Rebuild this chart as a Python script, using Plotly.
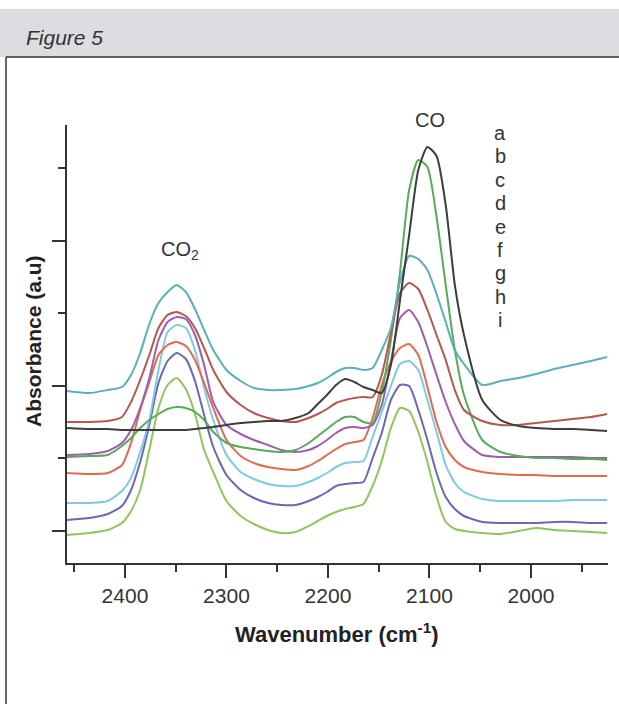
import plotly.graph_objects as go

# Wavenumber grid (cm-1), read along the x axis
wavenumber = [2457, 2435, 2417, 2403, 2394, 2385, 2376, 2367, 2358, 2349,
              2340, 2331, 2322, 2313, 2300, 2286, 2273, 2259, 2246, 2232,
              2219, 2210, 2201, 2192, 2183, 2174, 2165, 2156, 2147, 2138,
              2129, 2120, 2111, 2102, 2093, 2084, 2075, 2066, 2048, 2030,
              2012, 1995, 1977, 1959, 1941, 1925]

# Absorbance (arbitrary units, offset spectra)
teal = [140, 138, 141, 144, 156, 178, 207, 228, 239, 246,
        239, 222, 201, 181, 161, 150, 143, 141, 141, 142,
        145, 148, 153, 159, 163, 163, 161, 163, 181, 203,
        249, 275, 272, 261, 237, 209, 181, 167, 146, 150,
        153, 157, 162, 166, 170, 174]
brown = [109, 109, 110, 114, 129, 151, 176, 203, 216, 219,
         215, 203, 183, 161, 139, 126, 118, 113, 110, 109,
         113, 117, 122, 128, 131, 133, 134, 134, 156, 198,
         238, 248, 242, 221, 196, 171, 141, 121, 110, 106,
         106, 108, 110, 112, 114, 117]
black = [103, 102, 102, 101, 101, 101, 101, 101, 101, 101,
         101, 102, 103, 104, 106, 108, 109, 110, 110, 113,
         118, 127, 136, 146, 152, 149, 144, 141, 138, 166,
         231, 296, 361, 384, 375, 326, 246, 196, 131, 111,
         105, 103, 102, 102, 101, 100]
purple = [76, 77, 80, 88, 101, 123, 153, 191, 209, 214,
          212, 196, 166, 129, 106, 97, 91, 86, 81, 79,
          81, 85, 91, 98, 103, 104, 103, 106, 126, 169,
          213, 221, 209, 184, 156, 129, 107, 90, 76, 74,
          74, 74, 74, 74, 73, 73]
green = [74, 75, 76, 85, 93, 103, 111, 117, 122, 124,
         123, 119, 111, 99, 88, 84, 82, 80, 79, 81,
         88, 95, 102, 109, 114, 114, 109, 108, 139, 191,
         259, 341, 371, 364, 314, 246, 181, 136, 91, 79,
         75, 73, 73, 72, 72, 71]
orange = [58, 57, 58, 66, 88, 121, 149, 176, 186, 189,
          185, 171, 148, 123, 91, 75, 68, 64, 62, 61,
          65, 70, 76, 82, 87, 89, 91, 113, 146, 169,
          183, 187, 176, 144, 109, 84, 71, 64, 59, 57,
          56, 56, 55, 55, 55, 55]
light_blue = [28, 28, 30, 40, 53, 79, 111, 161, 199, 206,
              203, 181, 143, 111, 76, 59, 52, 47, 45, 45,
              49, 53, 58, 64, 68, 69, 70, 94, 119, 145,
              167, 170, 161, 131, 99, 66, 48, 39, 32, 30,
              30, 30, 30, 31, 31, 31]
blue = [11, 13, 17, 25, 41, 69, 106, 148, 170, 178,
        172, 150, 116, 84, 56, 41, 33, 28, 26, 26,
        30, 34, 39, 45, 47, 48, 49, 73, 98, 131,
        146, 145, 121, 91, 58, 34, 22, 15, 9, 8,
        8, 8, 9, 9, 8, 8]
light_green = [-4, -2, 1, 8, 20, 41, 81, 123, 146, 153,
               142, 117, 81, 59, 30, 15, 7, 1, -2, -1,
               5, 10, 15, 19, 22, 24, 27, 45, 70, 103,
               123, 120, 99, 69, 34, 9, 2, 0, -2, -3,
               0, 3, 1, 0, -1, -2]

series = [
    (light_green, "#8fc65a"),
    (blue, "#6a67b8"),
    (light_blue, "#7ccbe3"),
    (orange, "#e5694e"),
    (purple, "#a05cb0"),
    (green, "#55ad55"),
    (brown, "#b5574b"),
    (teal, "#56b1bd"),
    (black, "#3d3d3d"),
]

x_major = [2400, 2300, 2200, 2100, 2000]
x_minor = [2450, 2350, 2250, 2150, 2050, 1950]
y_major = [0, 145.2, 290.4]
y_minor = [72.6, 217.8, 363]
legend_letters = ["a", "b", "c", "d", "e", "f", "g", "h", "i"]

W, H = 619, 704
L, R, T, B = 67, 608, 125, 563


def px(x):
    return (x - L) / (R - L)


def py(y):
    return (B - y) / (B - T)


fig = go.Figure()
for vals, col in series:
    fig.add_trace(go.Scatter(x=wavenumber, y=vals, mode="lines",
                             line=dict(color=col, width=2, shape="spline", smoothing=0.6),
                             showlegend=False, hoverinfo="skip"))

FONT = "Liberation Sans, Arial, sans-serif"
TXT = "#333333"

shapes = [
    dict(type="rect", xref="paper", yref="paper", x0=px(0), x1=px(W), y0=py(57), y1=py(9),
         fillcolor="#dcdde0", line=dict(width=0), layer="below"),
    dict(type="line", xref="paper", yref="paper", x0=px(6), x1=px(W), y0=py(57), y1=py(57),
         line=dict(color="#333333", width=1.5)),
    dict(type="line", xref="paper", yref="paper", x0=px(6), x1=px(6), y0=py(57), y1=py(H),
         line=dict(color="#333333", width=1.5)),
]

annotations = [
    dict(text="<i>Figure 5</i>", x=px(24), y=py(37), xanchor="left", yanchor="middle",
         font=dict(size=21, color=TXT, family=FONT)),
    dict(text="<b>Absorbance (a.u)</b>", x=px(33), y=py(341), textangle=-90,
         xanchor="center", yanchor="middle", font=dict(size=21, color="#222222", family=FONT)),
    dict(text="<b>Wavenumber (cm<sup>-1</sup>)</b>", x=px(337), y=py(633),
         xanchor="center", yanchor="middle", font=dict(size=22, color="#222222", family=FONT)),
    dict(text="CO", x=px(430), y=py(120), xanchor="center", yanchor="middle",
         font=dict(size=20, color=TXT, family=FONT)),
    dict(text="CO<sub>2</sub>", x=px(180), y=py(250), xanchor="center", yanchor="middle",
         font=dict(size=20, color=TXT, family=FONT)),
]
for i, letter in enumerate(legend_letters):
    annotations.append(dict(text=letter, x=px(500), y=py(133 + i * 23.4),
                            xanchor="center", yanchor="middle",
                            font=dict(size=20, color=TXT, family=FONT)))
for a in annotations:
    a.update(xref="paper", yref="paper", showarrow=False)

fig.update_layout(
    width=W, height=H,
    margin=dict(l=L, r=W - R, t=T, b=H - B),
    paper_bgcolor="white", plot_bgcolor="white",
    shapes=shapes, annotations=annotations,
    xaxis=dict(range=[2457.1, 1924.1], tickvals=x_major, ticks="outside", ticklen=13,
               tickwidth=1.5, tickcolor="#333333", showline=True, linecolor="#333333",
               linewidth=1.5, showgrid=False, zeroline=False,
               tickfont=dict(size=21, color=TXT, family=FONT),
               minor=dict(tickvals=x_minor, ticks="outside", ticklen=7,
                          tickwidth=1.5, tickcolor="#333333", showgrid=False)),
    yaxis=dict(range=[-32, 406], tickvals=y_major, ticks="outside", ticklen=13,
               tickwidth=1.5, tickcolor="#333333", showline=True, linecolor="#333333",
               linewidth=1.5, showgrid=False, zeroline=False, showticklabels=False,
               minor=dict(tickvals=y_minor, ticks="outside", ticklen=7,
                          tickwidth=1.5, tickcolor="#333333", showgrid=False)),
)

fig.write_html("out.html")
